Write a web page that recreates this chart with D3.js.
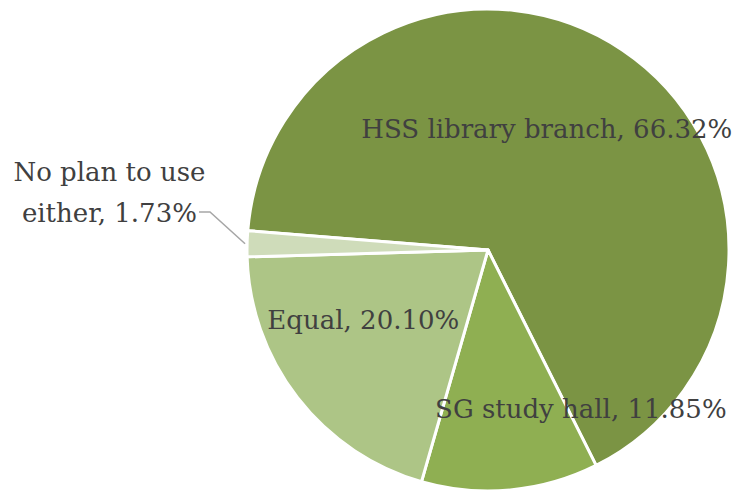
<!DOCTYPE html>
<html>
<head>
<meta charset="utf-8">
<script src="https://cdn.jsdelivr.net/npm/d3@7/dist/d3.min.js"></script>
<style>
  body { margin: 0; background: #fff; }
  svg text { font-family: "DejaVu Serif", serif; fill: #404040; }
</style>
</head>
<body>
<svg id="chart"></svg>
<script>
// DATA
const categories = ["HSS library branch", "SG study hall", "Equal", "No plan to use either"];
const shares = [66.32, 11.85, 20.10, 1.73];
const sliceColors = ["#7b9444", "#8faf52", "#adc586", "#cfdcba"];
// label lines (text split as in the reference)
const labelLines = [
    ["HSS library branch, 66.32%"],
    ["SG study hall, 11.85%"],
    ["Equal, 20.10%"],
    ["No plan to use", "either, 1.73%"]
];

// LAYOUT
const width = 736;
const height = 492;
const cx = 488, cy = 250;
const radius = 241;
const startDeg = 274.6;   // first slice starts just above 9 o'clock
const fontSize = 26;

const svg = d3.select("#chart")
    .attr("width", width)
    .attr("height", height);

const g = svg.append("g")
    .attr("transform", `translate(${cx}, ${cy})`);

const data = categories.map((c, i) => ({ name: c, value: shares[i], lines: labelLines[i], color: sliceColors[i] }));

const pie = d3.pie()
    .sort(null)
    .value(d => d.value)
    .startAngle(startDeg * Math.PI / 180)
    .endAngle((startDeg + 360) * Math.PI / 180);

const arcs = pie(data);

const arc = d3.arc()
    .innerRadius(0)
    .outerRadius(radius);

// slices
g.selectAll("path.slice")
    .data(arcs)
    .join("path")
    .attr("class", "slice")
    .attr("d", arc)
    .attr("fill", d => d.data.color)
    .attr("stroke", "#fff")
    .attr("stroke-width", 3)
    .attr("stroke-linejoin", "round");

// label placement: polar position (angle in degrees clockwise from 12, distance)
const labelPolar = [
    { a: 25.8, r: 135 },
    { a: 149.7, r: 184 },
    { a: 240.7, r: 143 },
    { a: 278.7, r: 383 }
];

const lineH = 41;
const labels = g.selectAll("text.lbl")
    .data(arcs)
    .join("text")
    .attr("class", "lbl")
    .attr("text-anchor", "middle")
    .attr("font-size", fontSize)
    .attr("transform", (d, i) => {
        const p = labelPolar[i];
        const t = p.a * Math.PI / 180;
        return `translate(${Math.sin(t) * p.r}, ${-Math.cos(t) * p.r})`;
    });

labels.selectAll("tspan")
    .data(d => d.data.lines.map((s, k, all) => ({ s, k, n: all.length })))
    .join("tspan")
    .attr("x", 0)
    .attr("y", d => (d.k - (d.n - 1) / 2) * lineH)
    .attr("dy", "0.35em")
    .text(d => d.s);

// leader line for the small slice
const small = arcs[3];
const midA = (small.startAngle + small.endAngle) / 2;
const edge = [Math.sin(midA) * (radius + 2), -Math.cos(midA) * (radius + 2)];
const labelEnd = [199 - cx, 212 - cy];
g.append("path")
    .attr("d", d3.line()([labelEnd, [labelEnd[0] + 11, labelEnd[1]], edge]))
    .attr("fill", "none")
    .attr("stroke", "#a6a6a6")
    .attr("stroke-width", 1.5);
</script>
</body>
</html>
